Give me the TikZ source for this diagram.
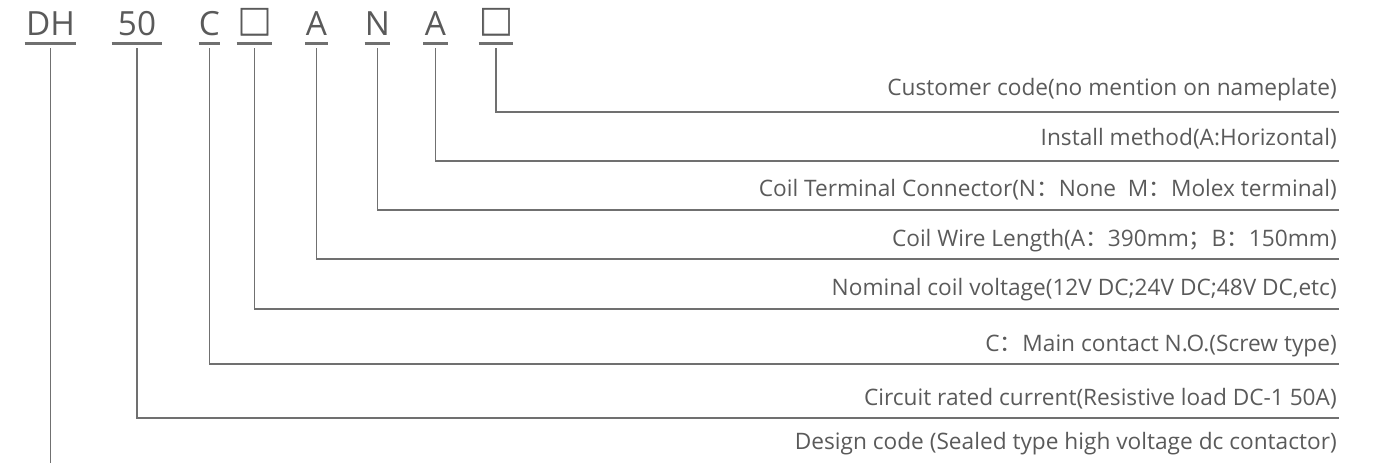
\documentclass[tikz,border=0pt]{standalone}
\usepackage{fontspec}
\setmainfont{Open Sans}
\newfontfamily\cjk{Noto Sans CJK SC}
\newfontfamily\cjkheavy[FakeBold=2]{Noto Sans CJK SC}
\usepackage{xcolor}
\usetikzlibrary{calc}
\definecolor{inkgray}{HTML}{5A5A5A}
\definecolor{wiregray}{HTML}{707070}
\newcommand{\boxmark}{\raisebox{1pt}{\fontsize{25.5}{30}\cjkheavy □}}

\begin{document}
\begin{tikzpicture}[x=0.75pt,y=-0.75pt,
  code/.style={inner xsep=0pt,inner ysep=5.25pt,text depth=0pt,anchor=base,
    minimum width=#1,text=inkgray,font=\fontsize{25}{30}\selectfont},
  lbl/.style={inner sep=0pt,anchor=base east,text=inkgray,font=\fontsize{17}{20}\selectfont},
  wire/.style={draw=wiregray,line width=1.3pt},
  uline/.style={draw=wiregray,line width=2pt}]
\useasboundingbox (0,0) rectangle (1379,463);

% the type code
\node[code=38.25pt] (dh) at (50.5,36) {DH};
\node[code=37.5pt] (amp) at (137,36) {50};
\node[code=15.75pt] (cont) at (209.5,36) {C};
\node[code=26.25pt] (sq1) at (254.5,36) {\boxmark};
\node[code=16.5pt] (a1) at (316.5,36) {A};
\node[code=18.75pt] (n) at (377.5,36) {N};
\node[code=18pt] (a2) at (435.5,36) {A};
\node[code=24pt] (sq2) at (496,36) {\boxmark};
\foreach \n in {dh,amp,cont,sq1,a1,n,a2,sq2} {
	\draw[uline] (\n.south west) -- (\n.south east);
}

% right ends of the leaders
\coordinate (e1) at (1339,112);
\coordinate (e2) at (1339,161);
\coordinate (e3) at (1339,210);
\coordinate (e4) at (1339,259);
\coordinate (e5) at (1339,309);
\coordinate (e6) at (1339,364);
\coordinate (e7) at (1339,418);
\coordinate (bot) at (0,463);

% explanations
\node[lbl] (l1) at (1337,96) {Customer code(no mention on nameplate)};
\node[lbl] (l2) at (1337,146) {Install method(A:Horizontal)};
\node[lbl] (l3) at (1337,197) {Coil Terminal Connector(N{\cjk ：}None\ \ M{\cjk ：}Molex terminal)};
\node[lbl] (l4) at (1337,247) {Coil Wire Length(A{\cjk ：}390mm{\cjk ；}B{\cjk ：}150mm)};
\node[lbl] (l5) at (1337,296) {Nominal coil voltage(12V DC;24V DC;48V DC,etc)};
\node[lbl] (l6) at (1337,352) {C{\cjk ：}Main contact N.O.(Screw type)};
\node[lbl] (l7) at (1337,406) {Circuit rated current(Resistive load DC-1 50A)};
\node[lbl] (l8) at (1337,450) {Design code (Sealed type high voltage dc contactor)};

% leaders
\draw[wire] ([yshift=-3.75pt]sq2.south) |- (e1);
\draw[wire] ([yshift=-3.75pt]a2.south) |- (e2);
\draw[wire] ([yshift=-3.75pt]n.south) |- (e3);
\draw[wire] ([yshift=-3.75pt]a1.south) |- (e4);
\draw[wire] ([yshift=-3.75pt]sq1.south) |- (e5);
\draw[wire] ([yshift=-3.75pt]cont.south) |- (e6);
\draw[wire] ([yshift=-3.75pt]amp.south) |- (e7);
\draw[wire] ([yshift=-3.75pt]dh.south) -- (dh.south |- bot);
\end{tikzpicture}
\end{document}
